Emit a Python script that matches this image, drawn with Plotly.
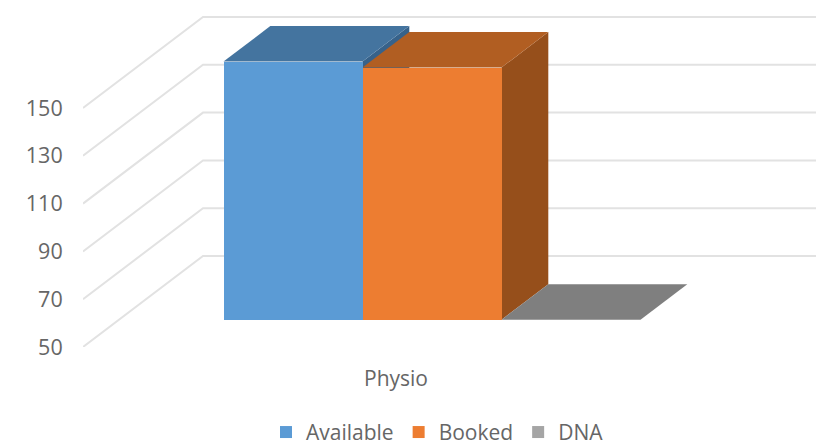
import plotly.graph_objects as go

categories = ["Physio"]
series_names = ["Available", "Booked", "DNA"]
available = [158]
booked = [155.5]
dna = [50]
tick_values = [50, 70, 90, 110, 130, 150]

series_values = [available, booked, dna]
front_colors = ["#5B9BD5", "#ED7D31", "#A5A5A5"]
top_colors = ["#44749F", "#B15E22", "#7F7F7F"]
side_colors = ["#37628A", "#964F1B", "#6A6A6A"]
GRID = "#E2E2E2"
TEXT = "#666666"
FONT = "Open Sans"

W, H = 816, 446
LEFT, BOTTOM = 83, 99
PX_PER_CAT = 626.0
PX_PER_UNIT = 2.39
x_min = -0.5
x_max = x_min + (W - LEFT) / PX_PER_CAT
y_min = 50
y_max = y_min + (H - BOTTOM) / PX_PER_UNIT

DX = 120 / PX_PER_CAT      # full depth of the floor, category units
DY = 91 / PX_PER_UNIT      # full depth of the floor, value units
D0, D1 = 0.30, 0.69        # front and back of the bars within the depth
BAR_W = 139 / PX_PER_CAT


def proj(x, v, d):
    return x + d * DX, v + d * DY


fig = go.Figure()

# Receding walls and back wall grid
for t in tick_values:
    fig.add_trace(go.Scatter(
        x=[x_min, x_min + DX, x_max], y=[t, t + DY, t + DY],
        mode="lines", line=dict(color=GRID, width=2),
        hoverinfo="skip", showlegend=False, xaxis="x", yaxis="y"))

cat_pos = 0
n = len(series_names)
floor = y_min

# Side and top faces (behind the front faces)
for i, (name, vals) in enumerate(zip(series_names, series_values)):
    x_left = cat_pos + (i - n / 2) * BAR_W
    x_right = x_left + BAR_W
    v = max(vals[0], floor)
    if v > floor:
        pts = [proj(x_right, floor, D0), proj(x_right, v, D0),
               proj(x_right, v, D1), proj(x_right, floor, D1)]
        fig.add_trace(go.Scatter(
            x=[p[0] for p in pts], y=[p[1] for p in pts], fill="toself",
            mode="lines", line=dict(width=0), fillcolor=side_colors[i],
            hoverinfo="skip", showlegend=False, xaxis="x", yaxis="y"))
    pts = [proj(x_left, v, D0), proj(x_right, v, D0),
           proj(x_right, v, D1), proj(x_left, v, D1)]
    fig.add_trace(go.Scatter(
        x=[p[0] for p in pts], y=[p[1] for p in pts], fill="toself",
        mode="lines", line=dict(width=0), fillcolor=top_colors[i],
        hoverinfo="skip", showlegend=False, xaxis="x", yaxis="y"))

# Front faces (overlaid axes, above everything else)
for i, (name, vals) in enumerate(zip(series_names, series_values)):
    x_left = cat_pos + (i - n / 2) * BAR_W
    v = max(vals[0], floor)
    cx, base = proj(x_left + BAR_W / 2, floor, D0)
    fig.add_trace(go.Bar(
        x=[cx], y=[v - floor], base=[base], width=[BAR_W], name=name,
        marker=dict(color=front_colors[i], line=dict(width=0)),
        xaxis="x2", yaxis="y2"))

fig.update_layout(
    width=W, height=H, autosize=False,
    margin=dict(l=LEFT, r=0, t=0, b=BOTTOM, autoexpand=False),
    paper_bgcolor="white", plot_bgcolor="white",
    barmode="overlay", bargap=0,
    font=dict(family=FONT, color=TEXT),
    xaxis=dict(range=[x_min, x_max], tickmode="array", tickvals=[cat_pos],
               ticktext=categories, showgrid=False, zeroline=False,
               showline=False, ticks="outside", ticklen=13,
               tickcolor="rgba(0,0,0,0)", tickfont=dict(size=21, color=TEXT)),
    yaxis=dict(range=[y_min, y_max], tickmode="array", tickvals=tick_values,
               showgrid=False, zeroline=False, showline=False, ticks="outside",
               ticklen=15, tickcolor="rgba(0,0,0,0)",
               tickfont=dict(size=21.5, color=TEXT)),
    xaxis2=dict(range=[x_min, x_max], overlaying="x", visible=False),
    yaxis2=dict(range=[y_min, y_max], overlaying="y", visible=False),
    legend=dict(orientation="h", x=0.4836, xanchor="center", y=-0.187, yanchor="top",
                font=dict(size=21, color=TEXT), bgcolor="rgba(0,0,0,0)",
                traceorder="normal"),
    showlegend=True,
)
fig.write_html("out.html", config=dict(displayModeBar=False),
               post_script="document.body.style.margin='0';document.documentElement.style.overflow='hidden';")
